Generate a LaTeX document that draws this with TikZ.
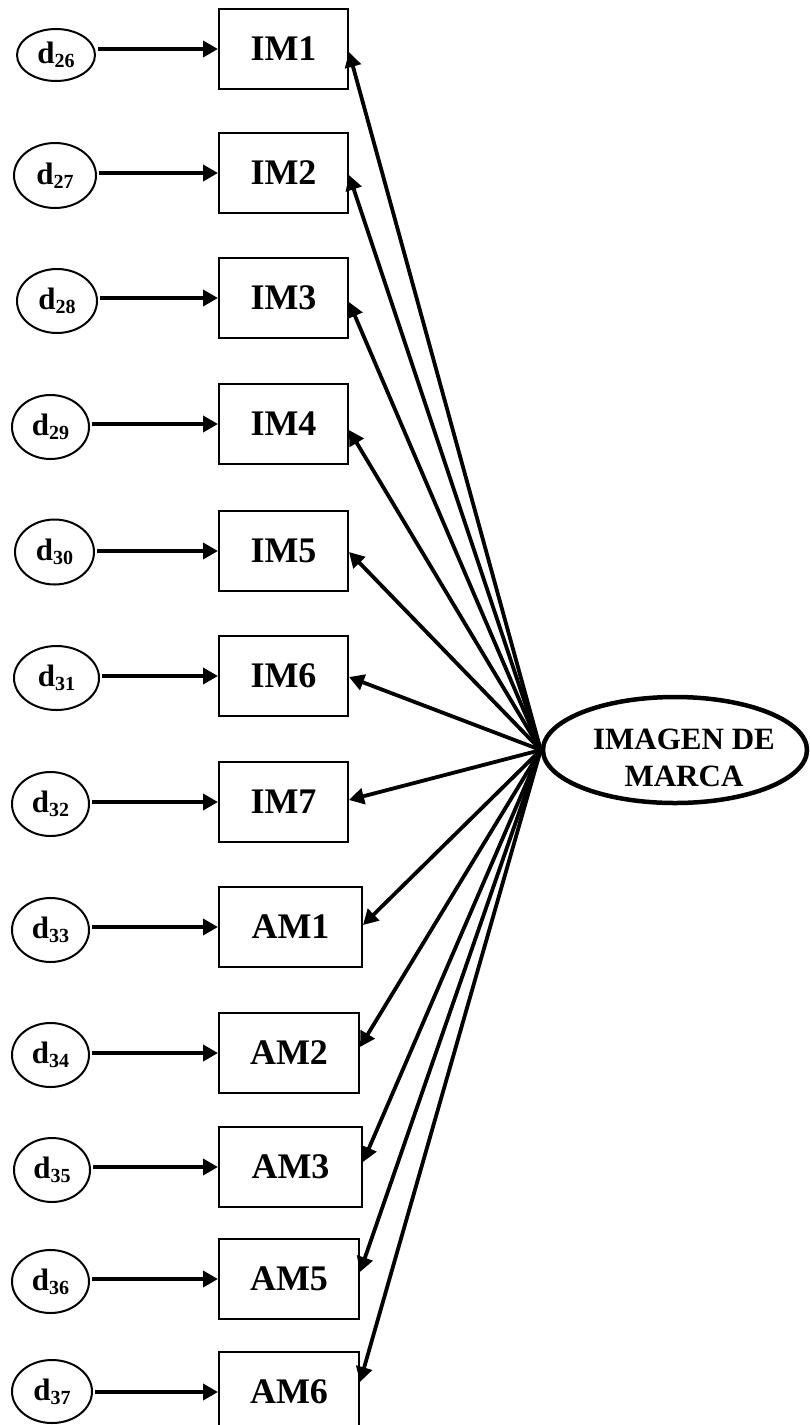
\documentclass[tikz,border=0pt]{standalone}
\usepackage{fontspec}
\setmainfont{Liberation Serif}
\usetikzlibrary{arrows.meta,shapes.geometric}

% error term label: bold d with a lowered, smaller index
\newcommand\errlabel[1]{{\fontsize{31}{31}\selectfont\bfseries d}\raisebox{-4pt}{\fontsize{20}{20}\selectfont\bfseries #1}}

\begin{document}
\begin{tikzpicture}[x=1pt,y=-1pt,
  obs/.style={draw, line width=2pt, rectangle, minimum width=129pt,
    minimum height=80pt, inner sep=0pt, font=\fontsize{36}{40}\selectfont\bfseries},
  err/.style={draw, line width=2pt, ellipse, minimum width=78pt,
    minimum height=64pt, inner sep=0pt},
  arr/.style={line width=3.8pt, -{Triangle[length=15pt,width=16pt]}},
  latent/.style={draw, ellipse, line width=4.5pt, inner sep=0pt},
]
\useasboundingbox (0,0) rectangle (810,1425);

% observed indicators
\foreach \n/\x/\y/\w in {IM1/283.5/49/129, IM2/283.5/173/129, IM3/283.5/298/129,
    IM4/283.5/424/129, IM5/283.5/551/129, IM6/283.5/676/129, IM7/283.5/802/129,
    AM1/290.5/927/143, AM2/289/1053/140, AM3/290.5/1167/143, AM5/289/1279/140,
    AM6/289/1392/140}
  \node[obs, minimum width=\w pt] (\n) at (\x,\y) {\n};

% error terms
\foreach \k/\x/\y/\w/\h in {26/56/55/78/52, 27/55/175.5/82/65, 28/57/301/80/64,
    29/50.5/427/77/64, 30/54.5/552/79/65, 31/56.5/678/85/64, 32/50.5/804/77/64,
    33/50.5/930/77/64, 34/50.5/1055/77/64, 35/52/1170/76/64, 36/50.5/1281.5/77/63,
    37/52/1391.5/80/63}
  \node[err, minimum width=\w pt, minimum height=\h pt] (d\k) at (\x,\y) {\errlabel{\k}};

% latent construct
\node[latent, minimum width=264pt, minimum height=106pt] (marca) at (675,750) {};
\node[font=\fontsize{31}{37}\selectfont\bfseries, align=center] (marcatext) at (684,758)
  {IMAGEN DE\\MARCA};

% error -> indicator
\foreach \k/\n in {26/IM1, 27/IM2, 28/IM3, 29/IM4, 30/IM5, 31/IM6, 32/IM7,
    33/AM1, 34/AM2, 35/AM3, 36/AM5, 37/AM6}
  \draw[arr, shorten <=2pt] (d\k.east |- \n.west) -- (\n.west);

% construct -> indicator loadings
\foreach \n/\s in {IM1/-3, IM2/-2, IM3/-4, IM4/-6, IM5/-1, IM6/-1, IM7/2,
    AM1/2, AM2/6, AM3/5, AM5/7, AM6/10}
  \draw[arr] (marca.west) -- ([yshift=\s pt]\n.east);
\end{tikzpicture}
\end{document}
